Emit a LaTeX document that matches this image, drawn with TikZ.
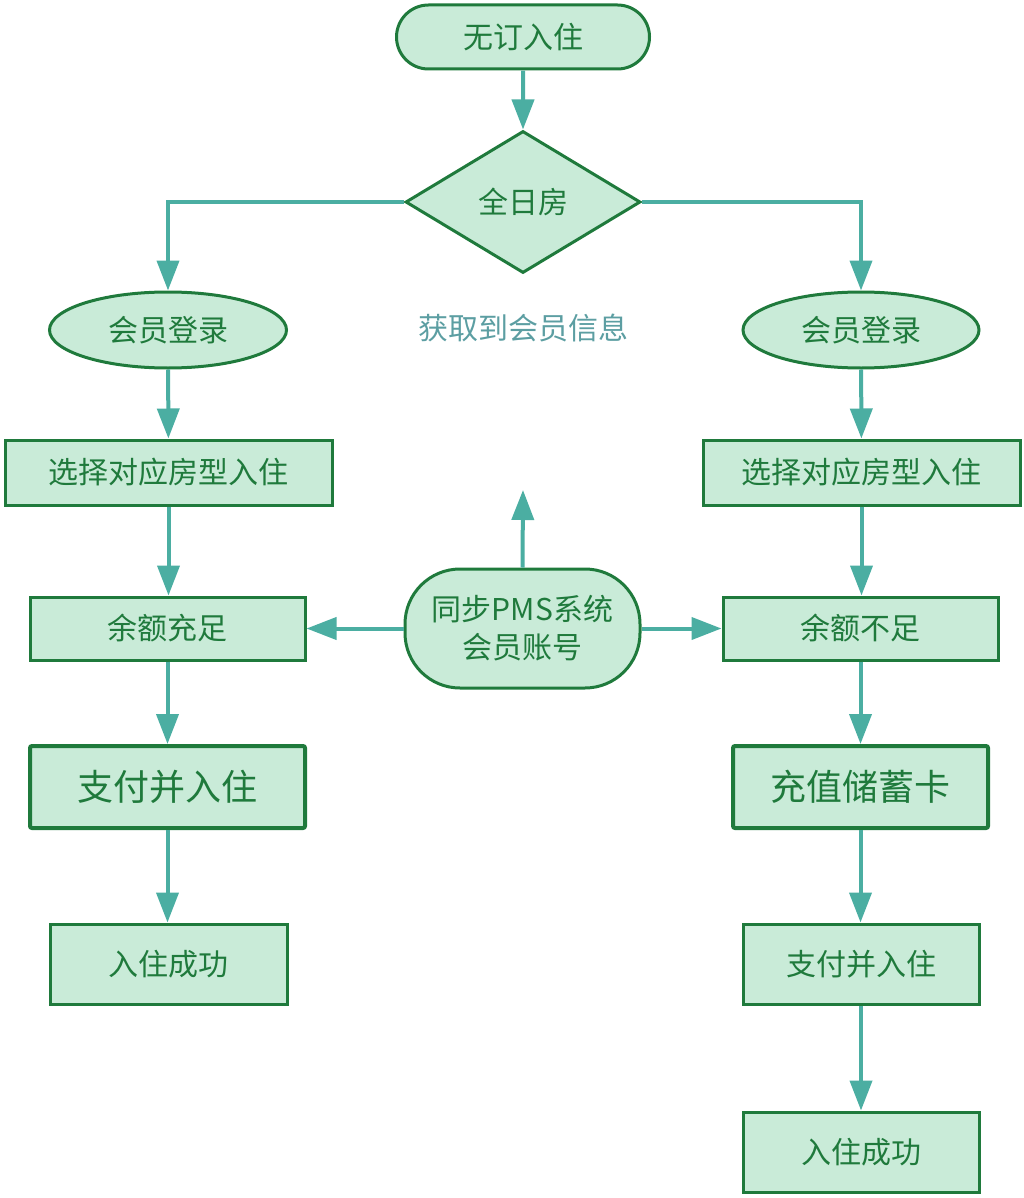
\documentclass[tikz,border=0pt]{standalone}
\usepackage{fontspec}
\setmainfont{Noto Sans CJK SC}
\usetikzlibrary{shapes.geometric,shapes.misc,arrows.meta}
\definecolor{boxfill}{HTML}{C9EBD8}
\definecolor{boxdraw}{HTML}{1F7A3C}
\definecolor{arrowc}{HTML}{4BAEA2}
\definecolor{notec}{HTML}{5C9EA2}
\tikzset{
  base/.style={draw=boxdraw, fill=boxfill, text=boxdraw, line width=3pt, font=\fontsize{30}{35}\selectfont, inner sep=0pt},
  bigbox/.style={base, rectangle, rounded corners=2pt, line width=4pt, font=\fontsize{36}{40}\selectfont},
  conn/.style={draw=arrowc, line width=4pt, -{Triangle[width=22pt,length=30pt]}},
}
\begin{document}
\begin{tikzpicture}[x=1pt,y=-1pt]
\useasboundingbox (0,0) rectangle (1023,1198);
% nodes
\node[base, rounded rectangle, minimum width=253pt, minimum height=64pt] (start) at (523,37) {无订入住};
\node[base, diamond, minimum width=235pt, minimum height=142pt, aspect=1.65] (d) at (523,202) {全日房};
\node[base, ellipse, minimum width=237pt, minimum height=76pt] (l1) at (168,330) {会员登录};
\node[base, ellipse, minimum width=236pt, minimum height=76pt] (r1) at (861,330) {会员登录};
\node[text=notec, font=\fontsize{30}{35}\selectfont] (note) at (523,328) {获取到会员信息};
\node[base, rectangle, minimum width=327pt, minimum height=65pt] (l2) at (168.5,472.5) {选择对应房型入住};
\node[base, rectangle, minimum width=317pt, minimum height=65pt] (r2) at (861.5,472.5) {选择对应房型入住};
\node[base, rectangle, minimum width=275pt, minimum height=63pt] (l3) at (167.5,628.5) {余额充足};
\node[base, rectangle, minimum width=275pt, minimum height=63pt] (r3) at (860.5,628.5) {余额不足};
\node[base, rounded corners=55pt, minimum width=235pt, minimum height=119pt, align=center, font=\fontsize{30}{38}\selectfont] (c) at (522.5,628.5) {同步PMS系统\\会员账号};
\coordinate (cup) at (523,490);
\node[bigbox, minimum width=275pt, minimum height=82pt] (l4) at (167.5,787) {支付并入住};
\node[bigbox, minimum width=255pt, minimum height=82pt] (r4) at (860.5,787) {充值储蓄卡};
\node[base, rectangle, minimum width=237pt, minimum height=80pt] (l5) at (168.5,964) {入住成功};
\node[base, rectangle, minimum width=236pt, minimum height=80pt] (r5) at (861,964) {支付并入住};
\node[base, rectangle, minimum width=236pt, minimum height=80pt] (r6) at (861,1152) {入住成功};
% connectors
\draw[conn] (start) -- (d);
\draw[conn] (d.west) -| (l1.north);
\draw[conn] (d.east) -| (r1.north);
\draw[conn] (l1) -- (l2);
\draw[conn] (r1) -- (r2);
\draw[conn] (l2.south) -- (l2.south |- l3.north);
\draw[conn] (r2.south) -- (r2.south |- r3.north);
\draw[conn] (c.north) -- (cup);
\draw[conn] (c.west) -- (l3.east |- c.west);
\draw[conn] (c.east) -- (r3.west |- c.east);
\draw[conn] (l3.south) -- (l3.south |- l4.north);
\draw[conn] (r3.south) -- (r3.south |- r4.north);
\draw[conn] (l4.south) -- (l4.south |- l5.north);
\draw[conn] (r4.south) -- (r4.south |- r5.north);
\draw[conn] (r5) -- (r6);
\end{tikzpicture}
\end{document}
